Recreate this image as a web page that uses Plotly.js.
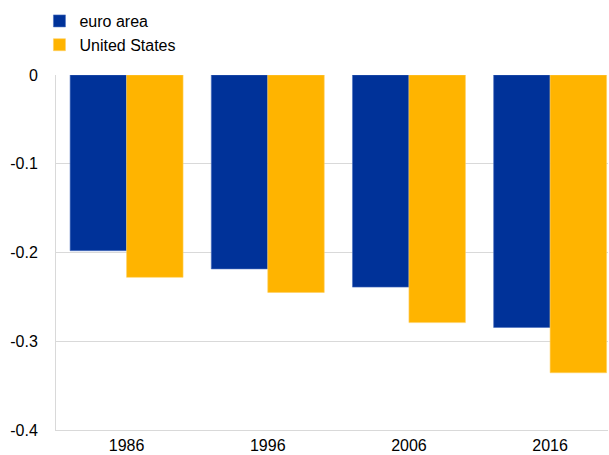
<!DOCTYPE html>
<html>
<head>
<meta charset="utf-8">
<script src="https://cdn.plot.ly/plotly-3.0.1.min.js"></script>
<style>html,body{margin:0;padding:0;background:#fff;}#chart{width:609px;height:455px;}</style>
</head>
<body>
<div id="chart"></div>
<script>
const categories = ["1986", "1996", "2006", "2016"];
const euroArea = [-0.198, -0.2185, -0.239, -0.2845];
const unitedStates = [-0.228, -0.245, -0.279, -0.3355];
const yTicks = [0, -0.1, -0.2, -0.3, -0.4];
const yTickLabels = ["0", "-0.1", "-0.2", "-0.3", "-0.4"];

const data = [
  {type: "bar", name: "euro area", x: categories, y: euroArea,
   marker: {color: "#003299", line: {color: "#4a6fc0", width: 0.6}}},
  {type: "bar", name: "United States", x: categories, y: unitedStates,
   marker: {color: "#FFB400", line: {color: "#ffd060", width: 0.6}}}
];

const layout = {
  width: 609, height: 455,
  margin: {l: 55.5, r: 1, t: 74.7, b: 25},
  paper_bgcolor: "#fff", plot_bgcolor: "#fff",
  font: {family: "Liberation Sans, Arial, sans-serif", size: 16, color: "#000"},
  barmode: "group", bargap: 0.2, bargroupgap: 0,
  showlegend: true,
  legend: {x: -0.03, xanchor: "left", y: 1.2, yanchor: "top",
           font: {size: 16}, itemwidth: 30, traceorder: "normal"},
  xaxis: {type: "category", range: [-0.5, 3.41], showgrid: false, zeroline: false,
          showline: true, linecolor: "#d9d9d9", linewidth: 1, ticks: "",
          ticklabelstandoff: 1, tickfont: {size: 16}},
  yaxis: {range: [-0.4, 0], tickvals: yTicks, ticktext: yTickLabels,
          showgrid: true, gridcolor: "#d9d9d9", gridwidth: 1, zeroline: false,
          showline: true, linecolor: "#d9d9d9", linewidth: 1, ticks: "",
          ticklabelstandoff: 14, tickfont: {size: 16}}
};
Plotly.newPlot("chart", data, layout, {displayModeBar: false, staticPlot: true});
</script>
</body>
</html>
